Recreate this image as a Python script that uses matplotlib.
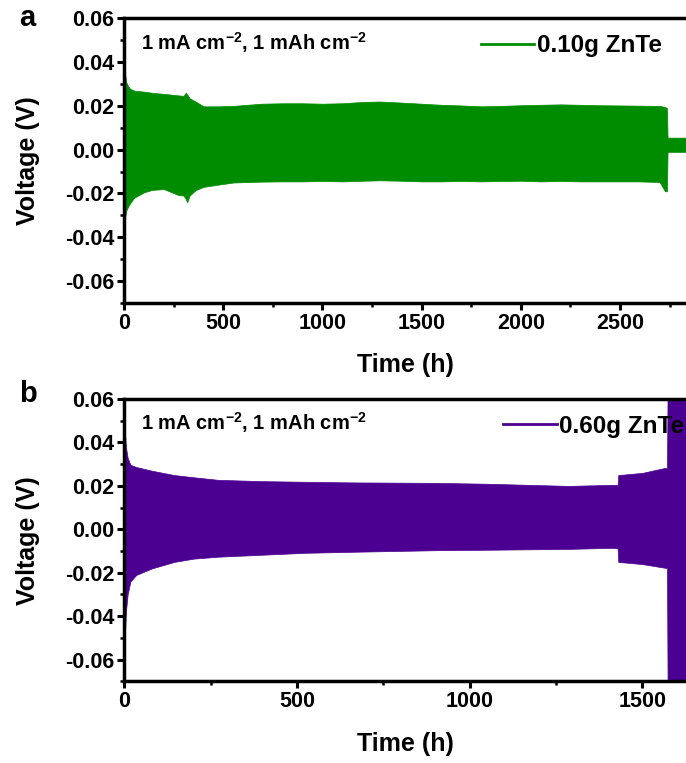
import matplotlib
matplotlib.use('Agg')
import matplotlib.pyplot as plt
from matplotlib.ticker import MultipleLocator

plt.rcParams['font.family'] = ['Liberation Sans', 'DejaVu Sans']
plt.rcParams['font.weight'] = 'bold'
plt.rcParams['mathtext.default'] = 'regular'

# colours
my_green = (0/255, 140/255, 0/255)
my_purple = (75/255, 0/255, 145/255)

#%% data panel a (0.10g ZnTe), envelope of the cycling curve
t_a = [0, 3, 10, 20, 30, 50, 100, 140, 200, 273, 300, 310, 318, 330, 360, 400, 474,
       550, 693, 800, 900, 1000, 1100, 1200, 1290, 1400, 1500, 1600, 1700, 1800,
       1900, 2000, 2100, 2200, 2300, 2400, 2500, 2600, 2700, 2727, 2737, 2740, 2833]
up_a = [0.040, 0.036, 0.031, 0.029, 0.0278, 0.027, 0.0265, 0.026, 0.0255, 0.0248, 0.0246, 0.026, 0.0252,
        0.0235, 0.022, 0.0198, 0.0198,
        0.020, 0.021, 0.0212, 0.0212, 0.021, 0.0212, 0.0218, 0.022, 0.0215, 0.021, 0.0205, 0.0202, 0.0198,
        0.020, 0.0203, 0.0205, 0.0207, 0.0205, 0.0203, 0.0202, 0.0201, 0.020, 0.0195, 0.019, 0.0055, 0.0055]
lo_a = [-0.070, -0.032, -0.028, -0.026, -0.0245, -0.022, -0.0195, -0.0184, -0.018, -0.0207, -0.021, -0.0225, -0.024,
        -0.021, -0.0185, -0.017, -0.016,
        -0.015, -0.0146, -0.0145, -0.0145, -0.0143, -0.0145, -0.0142, -0.014, -0.0142, -0.0145, -0.0145, -0.0143, -0.0145,
        -0.0143, -0.0142, -0.0145, -0.0143, -0.0145, -0.0145, -0.0145, -0.0145, -0.0148, -0.019, -0.019, -0.001, -0.001]

#%% data panel b (0.60g ZnTe)
t_b = [0, 2, 5, 10, 18, 35, 80, 145, 200, 272, 398, 525, 670, 905, 1050, 1286, 1413, 1428, 1430,
       1500, 1565, 1571, 1573, 1630]
up_b = [0.050, 0.045, 0.038, 0.033, 0.0297, 0.0287, 0.027, 0.025, 0.024, 0.0228, 0.0222, 0.0219, 0.0216, 0.0214,
        0.021, 0.020, 0.0205, 0.0203, 0.025, 0.026, 0.0283, 0.028, 0.07, 0.07]
lo_b = [-0.070, -0.050, -0.038, -0.030, -0.024, -0.021, -0.018, -0.015, -0.0135, -0.0126, -0.0117, -0.0108, -0.0103,
        -0.0096, -0.0094, -0.009, -0.0085, -0.0087, -0.015, -0.016, -0.0177, -0.0177, -0.08, -0.08]

ymin, ymax = -0.07, 0.06
yticks = [-0.06, -0.04, -0.02, 0.00, 0.02, 0.04, 0.06]
ytick_labels = ['-0.06', '-0.04', '-0.02', '0.00', '0.02', '0.04', '0.06']


def style_axis(ax, xmax, xmajor):
    ax.set_xlim(0, xmax)
    ax.set_ylim(ymin, ymax)
    ax.set_yticks(yticks)
    ax.set_yticklabels(ytick_labels)
    ax.xaxis.set_major_locator(MultipleLocator(xmajor))
    ax.xaxis.set_minor_locator(MultipleLocator(xmajor / 2))
    ax.yaxis.set_minor_locator(MultipleLocator(0.01))
    ax.tick_params(which='major', direction='out', length=5, width=2.2, labelsize=15.5, pad=2)
    ax.tick_params(which='minor', direction='out', length=3, width=1.8)
    for s in ['left', 'bottom', 'top']:
        ax.spines[s].set_linewidth(2.5)
    ax.spines['right'].set_visible(False)
    ax.set_xlabel('Time (h)', fontsize=18, fontweight='bold', labelpad=14)
    ax.set_ylabel('Voltage (V)', fontsize=18, fontweight='bold', labelpad=18)
    ax.text(0.03, 0.915, r'1 mA cm$^{-2}$, 1 mAh cm$^{-2}$', transform=ax.transAxes,
            fontsize=14.5, fontweight='bold', va='center', ha='left')


fig = plt.figure(figsize=(6.86, 7.63), dpi=100)

ax1 = fig.add_axes([0.181, 0.603, 0.819, 0.373])
ax1.fill_between(t_a, lo_a, up_a, color=my_green, lw=0.5)
ax1.plot([], [], color=my_green, lw=2, label='0.10g ZnTe')
style_axis(ax1, 2833, 500)
ax1.legend(loc='upper right', bbox_to_anchor=(0.985, 1.0), frameon=False,
           prop={'size': 17.5, 'weight': 'bold'}, handlelength=2.2, handletextpad=0.1,
           borderaxespad=0.25)
fig.text(0.028, 0.977, 'a', fontsize=21, fontweight='bold', va='center')

ax2 = fig.add_axes([0.181, 0.107, 0.819, 0.370])
ax2.fill_between(t_b, lo_b, up_b, color=my_purple, lw=0.5)
ax2.plot([], [], color=my_purple, lw=2, label='0.60g ZnTe')
style_axis(ax2, 1626, 500)
ax2.xaxis.set_minor_locator(MultipleLocator(250))
ax2.legend(loc='upper right', bbox_to_anchor=(1.025, 1.0), frameon=False,
           prop={'size': 17.5, 'weight': 'bold'}, handlelength=2.2, handletextpad=0.1,
           borderaxespad=0.25)
fig.text(0.028, 0.483, 'b', fontsize=21, fontweight='bold', va='center')

fig.savefig('out.png', dpi=100)
